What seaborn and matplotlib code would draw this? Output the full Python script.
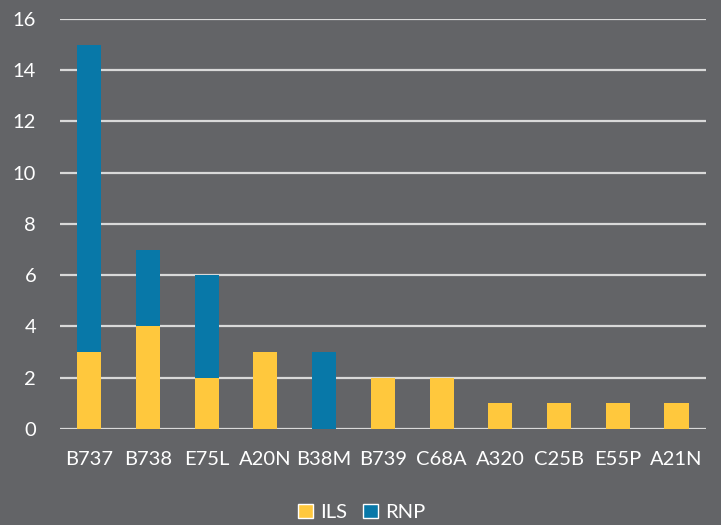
import matplotlib
matplotlib.use("Agg")
import matplotlib.pyplot as plt
from matplotlib.patches import Patch
import seaborn as sns
import pandas as pd

aircraft = ["B737", "B738", "E75L", "A20N", "B38M", "B739", "C68A",
            "A320", "C25B", "E55P", "A21N"]
ils = [3, 4, 2, 3, 0, 2, 2, 1, 1, 1, 1]
rnp = [12, 3, 4, 0, 3, 0, 0, 0, 0, 0, 0]
y_ticks = [0, 2, 4, 6, 8, 10, 12, 14, 16]

BG = "#636467"
GRID = "#D9D9D9"
ILS_COLOR = "#FFC83D"
RNP_COLOR = "#0878A8"
TEXT = "white"

df = pd.DataFrame({"aircraft": aircraft, "ILS": ils, "RNP": rnp})
df["total"] = df["ILS"] + df["RNP"]

sns.set_theme(style="white")
plt.rcParams["font.family"] = ["Lato", "DejaVu Sans"]

fig = plt.figure(figsize=(7.21, 5.25), dpi=100, facecolor=BG)
ax = fig.add_axes([0.083, 0.183, 0.896, 0.781])
ax.set_facecolor(BG)

# stacked: totals in blue, ILS drawn over the lower part
sns.barplot(data=df, x="aircraft", y="total", color=RNP_COLOR, width=0.41,
            saturation=1, linewidth=0, ax=ax, zorder=3)
sns.barplot(data=df, x="aircraft", y="ILS", color=ILS_COLOR, width=0.41,
            saturation=1, linewidth=0, ax=ax, zorder=4)

ax.set_ylim(0, 16)
ax.set_xlim(-0.5, len(aircraft) - 0.5)
ax.set_yticks(y_ticks)
ax.set_yticklabels([str(t) for t in y_ticks])
ax.set_xlabel("")
ax.set_ylabel("")

for t in y_ticks:
    ax.axhline(t, color=GRID, linewidth=1.6, zorder=1)

for s in ax.spines.values():
    s.set_visible(False)

ax.tick_params(axis="both", length=0, colors=TEXT, labelsize=14.5)
ax.tick_params(axis="y", pad=17)
ax.tick_params(axis="x", pad=16)

handles = [Patch(facecolor=ILS_COLOR, label="ILS"),
           Patch(facecolor=RNP_COLOR, label="RNP")]
leg = fig.legend(handles=handles, loc="center", bbox_to_anchor=(0.502, 0.024),
                 ncol=2, frameon=False, fontsize=14.5, handlelength=0.75,
                 handleheight=0.75, handletextpad=0.35, columnspacing=0.8)
for txt in leg.get_texts():
    txt.set_color(TEXT)

fig.savefig("out.png", dpi=100, facecolor=BG)
